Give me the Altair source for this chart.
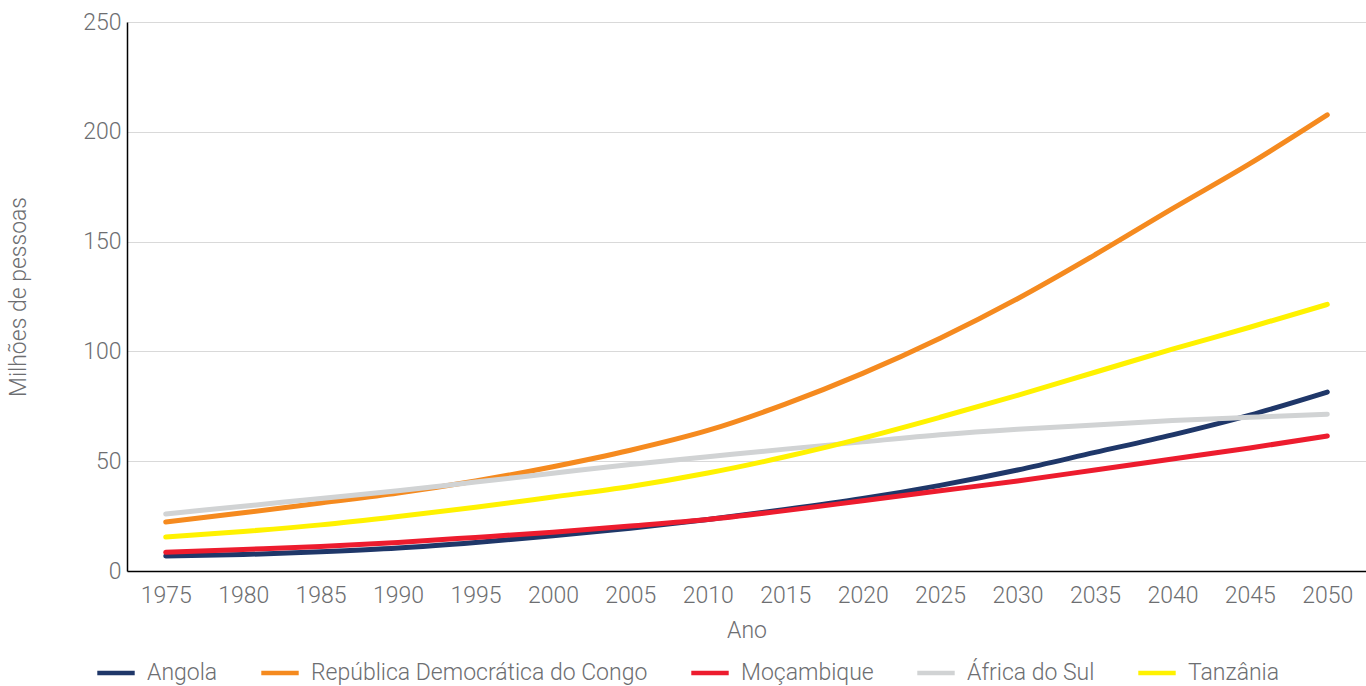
import altair as alt
import pandas as pd

# Population (millions), 1975-2050 in 5-year steps
anos = [1975, 1980, 1985, 1990, 1995, 2000, 2005, 2010, 2015, 2020,
        2025, 2030, 2035, 2040, 2045, 2050]

angola = [6.8, 7.5, 8.8, 10.5, 13.0, 16.0, 19.5, 23.5, 28.0, 33.0,
          39.0, 46.0, 54.0, 62.0, 71.0, 81.5]
rdc = [22.3, 26.5, 31.0, 35.5, 41.0, 47.5, 55.0, 64.0, 76.0, 90.0,
       106.0, 124.0, 144.0, 165.0, 185.5, 207.7]
mocambique = [8.5, 9.8, 11.2, 13.0, 15.3, 17.7, 20.5, 23.5, 27.5, 32.0,
              36.5, 41.0, 46.0, 51.0, 56.0, 61.5]
africa_sul = [26.0, 29.5, 33.0, 36.5, 40.5, 44.5, 48.5, 52.0, 55.5, 58.8,
              62.0, 64.5, 66.5, 68.5, 70.0, 71.4]
tanzania = [15.5, 18.0, 21.0, 24.8, 29.0, 33.7, 38.5, 44.6, 52.0, 60.5,
            70.0, 80.0, 90.5, 101.0, 111.0, 121.4]

paises = ["Angola", "República Democrática do Congo", "Moçambique",
          "África do Sul", "Tanzânia"]
cores = ["#1f3769", "#f58a1f", "#ed1c2e", "#d1d3d4", "#fff200"]
series = [angola, rdc, mocambique, africa_sul, tanzania]

rows = []
for ordem, (pais, valores) in enumerate(zip(paises, series)):
    for ano, v in zip(anos, valores):
        rows.append({"Ano": str(ano), "Pais": pais, "Valor": v, "ordem": ordem})
df = pd.DataFrame(rows)

FONT = "Roboto"
TXT = "#6d6e71"

chart = (
    alt.Chart(df)
    .mark_line(strokeWidth=5, strokeCap="round", interpolate="monotone")
    .encode(
        x=alt.X("Ano:O", title="Ano",
                scale=alt.Scale(type="point", padding=0.5),
                axis=alt.Axis(labelAngle=0, ticks=False, grid=False,
                              domainColor="#000000", domainWidth=1.5,
                              labelPadding=13, titlePadding=12)),
        y=alt.Y("Valor:Q", title="Milhões de pessoas",
                scale=alt.Scale(domain=[0, 250]),
                axis=alt.Axis(values=[0, 50, 100, 150, 200, 250], ticks=False,
                              domainColor="#000000", domainWidth=1.5,
                              gridColor="#d9d9d9", gridWidth=1.2,
                              labelPadding=6, titlePadding=52)),
        color=alt.Color("Pais:N", sort=paises,
                        scale=alt.Scale(domain=paises, range=cores),
                        legend=alt.Legend(title=None, orient="none",
                                          legendX=-32, legendY=630,
                                          direction="horizontal",
                                          symbolType="stroke",
                                          symbolStrokeWidth=4.5,
                                          symbolSize=1400,
                                          labelLimit=500,
                                          columnPadding=34,
                                          labelOffset=10)),
        order=alt.Order("ordem:Q"),
        detail="Pais:N",
    )
    .properties(
        width=1239, height=549,
        autosize=alt.AutoSizeParams(type="none"),
        padding={"left": 127, "top": 22, "right": 0, "bottom": 115},
    )
    .configure_view(stroke=None)
    .configure_axis(labelFont=FONT, titleFont=FONT, labelFontSize=23,
                    titleFontSize=23, labelColor=TXT, titleColor=TXT,
                    labelFontWeight=300, titleFontWeight=300)
    .configure_legend(labelFont=FONT, labelFontSize=23, labelColor=TXT,
                      labelFontWeight=300)
)

chart.save("out.html", embed_options={"renderer": "svg", "actions": False})
